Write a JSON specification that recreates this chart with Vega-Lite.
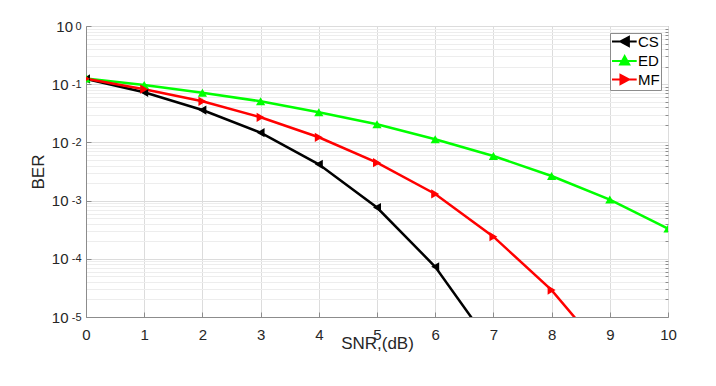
{
  "$schema": "https://vega.github.io/schema/vega-lite/v6.json",
  "width": 582,
  "height": 291,
  "autosize": {"type": "none"},
  "padding": {"left": 86, "top": 26, "right": 48, "bottom": 69},
  "background": "white",
  "config": {
    "font": "Liberation Sans",
    "view": {"stroke": "#8c8c8c", "strokeWidth": 1},
    "axis": {
      "labelFont": "Liberation Sans",
      "titleFont": "Liberation Sans",
      "labelColor": "#262626",
      "titleColor": "#262626",
      "labelFontSize": 15,
      "titleFontSize": 17,
      "titleFontWeight": "normal",
      "domainColor": "#8c8c8c",
      "tickColor": "#8c8c8c",
      "gridColor": "#dcdcdc",
      "gridWidth": 1
    }
  },
  "data": {
    "values": [
      {"snr": 0, "ber": 0.123, "scheme": "CS"},
      {"snr": 1, "ber": 0.0726, "scheme": "CS"},
      {"snr": 2, "ber": 0.036, "scheme": "CS"},
      {"snr": 3, "ber": 0.0147, "scheme": "CS"},
      {"snr": 4, "ber": 0.0042, "scheme": "CS"},
      {"snr": 5, "ber": 0.00076, "scheme": "CS"},
      {"snr": 6, "ber": 0.000073, "scheme": "CS"},
      {"snr": 7, "ber": 0.0000029, "scheme": "CS"},
      {"snr": 0, "ber": 0.125, "scheme": "ED"},
      {"snr": 1, "ber": 0.097, "scheme": "ED"},
      {"snr": 2, "ber": 0.0715, "scheme": "ED"},
      {"snr": 3, "ber": 0.0508, "scheme": "ED"},
      {"snr": 4, "ber": 0.0329, "scheme": "ED"},
      {"snr": 5, "ber": 0.0205, "scheme": "ED"},
      {"snr": 6, "ber": 0.0113, "scheme": "ED"},
      {"snr": 7, "ber": 0.00584, "scheme": "ED"},
      {"snr": 8, "ber": 0.00265, "scheme": "ED"},
      {"snr": 9, "ber": 0.00104, "scheme": "ED"},
      {"snr": 10, "ber": 0.00033, "scheme": "ED"},
      {"snr": 0, "ber": 0.124, "scheme": "MF"},
      {"snr": 1, "ber": 0.082, "scheme": "MF"},
      {"snr": 2, "ber": 0.0508, "scheme": "MF"},
      {"snr": 3, "ber": 0.027, "scheme": "MF"},
      {"snr": 4, "ber": 0.01225, "scheme": "MF"},
      {"snr": 5, "ber": 0.00448, "scheme": "MF"},
      {"snr": 6, "ber": 0.0013, "scheme": "MF"},
      {"snr": 7, "ber": 0.00024, "scheme": "MF"},
      {"snr": 8, "ber": 0.000029, "scheme": "MF"},
      {"snr": 9, "ber": 0.0000019, "scheme": "MF"}
    ]
  },
  "layer": [
    {
      "mark": {"type": "line", "strokeWidth": 2.5, "clip": true},
      "encoding": {
        "x": {
          "field": "snr",
          "type": "quantitative",
          "scale": {"domain": [0, 10], "nice": false},
          "axis": {
            "values": [0, 1, 2, 3, 4, 5, 6, 7, 8, 9, 10],
            "title": "SNR,(dB)",
            "grid": true,
            "format": "d",
            "labelFlush": false,
            "labelPadding": 15,
            "tickSize": -5,
            "titlePadding": -7
          }
        },
        "y": {
          "field": "ber",
          "type": "quantitative",
          "scale": {"type": "log", "domain": [0.00001, 1], "nice": false},
          "axis": {
            "values": [0.00001, 0.0001, 0.001, 0.01, 0.1, 1],
            "title": "BER",
            "grid": true,
            "labelExpr": "'10'",
            "labelPadding": {"condition": {"test": "datum.value >= 1", "value": 18.5}, "value": 23},
            "labelDy": 4,
            "labelFlush": false,
            "tickSize": -5,
            "titlePadding": 4
          }
        },
        "color": {
          "field": "scheme",
          "type": "nominal",
          "scale": {"domain": ["CS", "ED", "MF"], "range": ["#000000", "#00ff00", "#ff0000"]},
          "legend": {
            "title": null,
            "orient": "top-right",
            "offset": 7,
            "fillColor": "white",
            "strokeColor": "#8c8c8c",
            "padding": 1,
            "labelFont": "Liberation Sans",
            "labelFontSize": 15,
            "labelColor": "#000000",
            "symbolSize": 169,
            "symbolStrokeWidth": 2,
            "labelOffset": 12,
            "rowPadding": 0.5,
            "encode": {
              "symbols": {
                "update": {
                  "shape": {"signal": "datum.value === 'CS' ? 'M-1,0L2.8,0M0.3,0L1.6,-0.7L1.6,0.7Z' : (datum.value === 'ED' ? 'M-1,0L2.8,0M0.95,-0.75L1.65,0.55L0.25,0.55Z' : 'M-1,0L2.8,0M1.6,0L0.3,-0.7L0.3,0.7Z')"},
                  "fill": {"scale": "color", "field": "value"},
                  "stroke": {"scale": "color", "field": "value"},
                  "strokeWidth": {"value": 2}
                }
              }
            }
          }
        }
      }
    },
    {
      "transform": [{"filter": "datum.scheme === 'CS'"}],
      "mark": {"type": "point", "filled": true, "opacity": 1, "size": 85, "clip": true, "shape": "triangle-left"},
      "encoding": {
        "x": {"field": "snr", "type": "quantitative"},
        "y": {
          "field": "ber",
          "type": "quantitative",
          "axis": {
            "orient": "right",
            "values": [0.00002, 0.00003, 0.00004, 0.00005, 0.00006, 0.00007, 0.00008, 0.00009,
                       0.0002, 0.0003, 0.0004, 0.0005, 0.0006, 0.0007, 0.0008, 0.0009,
                       0.002, 0.003, 0.004, 0.005, 0.006, 0.007, 0.008, 0.009,
                       0.02, 0.03, 0.04, 0.05, 0.06, 0.07, 0.08, 0.09,
                       0.2, 0.3, 0.4, 0.5, 0.6, 0.7, 0.8, 0.9],
            "grid": true,
            "gridColor": "#ededed",
            "labels": false,
            "title": null,
            "domain": false,
            "tickSize": -3
          }
        },
        "color": {"field": "scheme", "type": "nominal", "legend": null}
      }
    },
    {
      "transform": [{"filter": "datum.scheme === 'ED'"}],
      "mark": {"type": "point", "filled": true, "opacity": 1, "size": 85, "clip": true, "shape": "triangle-up"},
      "encoding": {
        "x": {"field": "snr", "type": "quantitative"},
        "y": {
          "field": "ber",
          "type": "quantitative",
          "axis": {
            "orient": "left",
            "values": [0.00001, 0.0001, 0.001, 0.01, 0.1, 1],
            "labelExpr": "datum.value >= 1 ? '0' : '-' + round(-log(datum.value)/LN10)",
            "labelFontSize": 11,
            "labelAlign": "right",
            "labelPadding": 5,
            "labelDy": -2,
            "labelFlush": false,
            "grid": false,
            "ticks": false,
            "domain": false,
            "title": null
          }
        },
        "color": {"field": "scheme", "type": "nominal", "legend": null}
      }
    },
    {
      "transform": [{"filter": "datum.scheme === 'MF'"}],
      "mark": {"type": "point", "filled": true, "opacity": 1, "size": 85, "clip": true, "shape": "triangle-right"},
      "encoding": {
        "x": {"field": "snr", "type": "quantitative"},
        "y": {"field": "ber", "type": "quantitative", "axis": null},
        "color": {"field": "scheme", "type": "nominal", "legend": null}
      }
    }
  ],
  "resolve": {"axis": {"y": "independent"}}
}
